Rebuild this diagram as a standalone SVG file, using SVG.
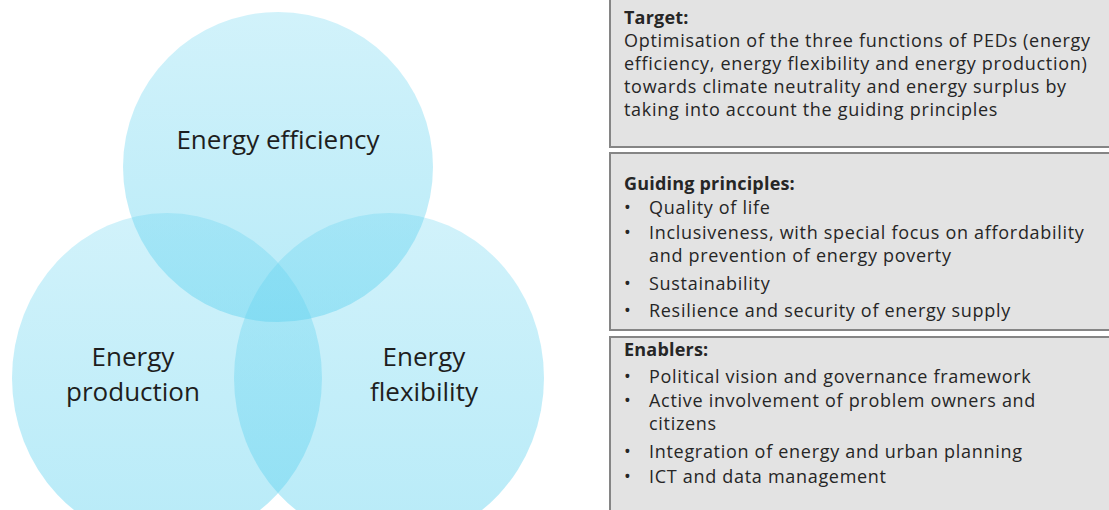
<svg xmlns="http://www.w3.org/2000/svg" width="1109" height="510" viewBox="0 0 1109 510">
  <defs>
    <linearGradient id="circGrad" x1="0" y1="0" x2="0" y2="1">
      <stop offset="0" stop-color="#5cd1ef" stop-opacity="0.28"/>
      <stop offset="1" stop-color="#5cd1ef" stop-opacity="0.44"/>
    </linearGradient>
    <style>
      .circ { fill: url(#circGrad); stroke: none; }
      .clabel { font-family: "Open Sans", "Liberation Sans", sans-serif; font-size: 26px; fill: #1e1e1e; text-anchor: middle; }
      .box { fill: #e3e3e3; stroke: #858585; stroke-width: 2; }
      .btext { font-family: "Open Sans", "Liberation Sans", sans-serif; font-size: 18px; letter-spacing: 0.7px; fill: #262626; }
      .bhead { font-weight: bold; letter-spacing: 0.2px; }
    </style>
  </defs>
  <rect x="0" y="0" width="1109" height="510" fill="#ffffff"/>

  <g id="circle-production">
    <ellipse class="circ" cx="167" cy="378" rx="155" ry="165"/>
    <text class="clabel" x="133" y="366">Energy</text>
    <text class="clabel" x="133" y="401">production</text>
  </g>
  <g id="circle-flexibility">
    <ellipse class="circ" cx="389" cy="378" rx="155" ry="165"/>
    <text class="clabel" x="424" y="366">Energy</text>
    <text class="clabel" x="424" y="401">flexibility</text>
  </g>
  <g id="circle-efficiency">
    <circle class="circ" cx="278" cy="167" r="155"/>
    <text class="clabel" x="278" y="149">Energy efficiency</text>
  </g>

  <g id="connectors"></g>

  <g id="box-target">
    <rect class="box" x="610" y="-2" width="510" height="149"/>
    <text class="btext bhead" x="624" y="24">Target:</text>
    <text class="btext" x="624" y="47">Optimisation of the three functions of PEDs (energy</text>
    <text class="btext" x="624" y="70">efficiency, energy flexibility and energy production)</text>
    <text class="btext" x="624" y="93">towards climate neutrality and energy surplus by</text>
    <text class="btext" x="624" y="116">taking into account the guiding principles</text>
  </g>

  <g id="box-guiding">
    <rect class="box" x="610" y="153" width="510" height="177"/>
    <text class="btext bhead" x="624" y="190">Guiding principles:</text>
    <text class="btext" x="624" y="214">•</text>
    <text class="btext" x="649" y="214">Quality of life</text>
    <text class="btext" x="624" y="239">•</text>
    <text class="btext" x="649" y="239">Inclusiveness, with special focus on affordability</text>
    <text class="btext" x="649" y="262">and prevention of energy poverty</text>
    <text class="btext" x="624" y="290">•</text>
    <text class="btext" x="649" y="290">Sustainability</text>
    <text class="btext" x="624" y="317">•</text>
    <text class="btext" x="649" y="317">Resilience and security of energy supply</text>
  </g>

  <g id="box-enablers">
    <rect class="box" x="610" y="337" width="510" height="180"/>
    <text class="btext bhead" x="624" y="356">Enablers:</text>
    <text class="btext" x="624" y="383">•</text>
    <text class="btext" x="649" y="383">Political vision and governance framework</text>
    <text class="btext" x="624" y="407">•</text>
    <text class="btext" x="649" y="407">Active involvement of problem owners and</text>
    <text class="btext" x="649" y="430">citizens</text>
    <text class="btext" x="624" y="458">•</text>
    <text class="btext" x="649" y="458">Integration of energy and urban planning</text>
    <text class="btext" x="624" y="483">•</text>
    <text class="btext" x="649" y="483">ICT and data management</text>
  </g>
</svg>
